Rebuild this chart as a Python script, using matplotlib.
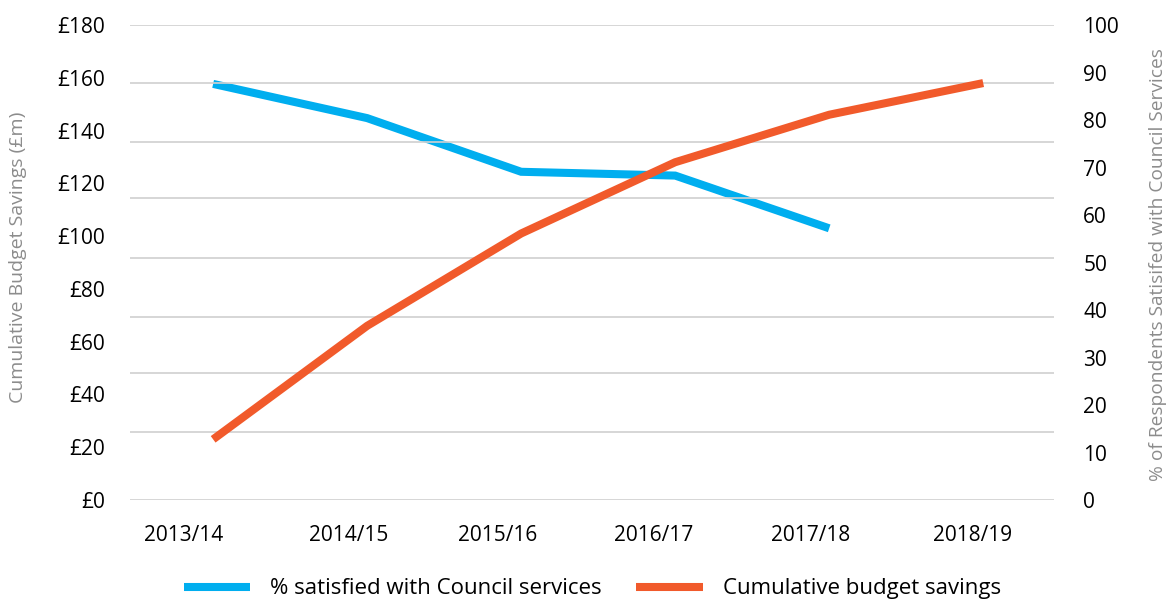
import matplotlib
matplotlib.use('Agg')
import matplotlib.pyplot as plt
from matplotlib.lines import Line2D

plt.rcParams['font.family'] = ['Open Sans', 'DejaVu Sans']

# ── Dados ────────────────────────────────────────────────────────
years = ['2013/14', '2014/15', '2015/16', '2016/17', '2017/18', '2018/19']
savings = [23, 66, 101, 128, 146, 158]           # £m, eixo esquerdo
satisfied = [87.6, 80.4, 69.1, 68.3, 57.2]       # %, eixo direito (sem 2018/19)

left_ticks = list(range(0, 181, 20))
right_ticks = list(range(0, 101, 10))
grid_levels = [0, 25.8, 48.1, 69.3, 91.7, 114.4, 135.6, 158, 180]   # em £m
label_pos = [-0.19, 0.88, 1.85, 2.86, 3.88, 4.93]

BLUE = '#00AEEF'
ORANGE = '#F15A2B'
GREY = '#8C8C8C'

fig = plt.figure(figsize=(11.73, 6.01), dpi=100)
ax = fig.add_axes([0.1108, 0.168, 0.7878, 0.7904])
ax2 = ax.twinx()
ax.set_zorder(ax2.get_zorder() + 1)
ax.patch.set_visible(False)

for g in grid_levels:
    ax.axhline(g, color='#D0D0D0', lw=1.2, zorder=0)

x_sav = list(range(len(savings)))
x_sat = list(range(len(satisfied)))
ax.plot(x_sav, savings, color=ORANGE, lw=5.8, solid_capstyle='butt',
        solid_joinstyle='miter', zorder=3)
ax2.plot(x_sat, satisfied, color=BLUE, lw=5.8, solid_capstyle='butt',
         solid_joinstyle='miter')

ax.set_xlim(-0.54, 5.46)
ax.set_ylim(0, 180)
ax2.set_ylim(0, 100)

ax.set_xticks(label_pos)
ax.set_xticklabels(years, fontsize=15)
ax.set_yticks(left_ticks)
ax.set_yticklabels([f'£{v}' for v in left_ticks], fontsize=15)
ax2.set_yticks(right_ticks)
ax2.set_yticklabels([str(v) for v in right_ticks], fontsize=15)

ax.tick_params(axis='x', length=0, pad=18)
ax.tick_params(axis='y', length=0, pad=18)
ax2.tick_params(axis='y', length=0, pad=21)

for a in (ax, ax2):
    for s in a.spines.values():
        s.set_visible(False)

fig.text(0.0155, 0.572, 'Cumulative Budget Savings (£m)', rotation=90,
         color=GREY, fontsize=14, ha='center', va='center')
fig.text(0.987, 0.56, '% of Respondents Satisifed with Council Services',
         rotation=90, color=GREY, fontsize=13.8, ha='center', va='center')

handles = [Line2D([], [], color=BLUE, lw=5.8, solid_capstyle='butt'),
           Line2D([], [], color=ORANGE, lw=5.8, solid_capstyle='butt')]
fig.legend(handles, ['% satisfied with Council services', 'Cumulative budget savings'],
           loc='center', bbox_to_anchor=(0.505, 0.02), ncol=2, frameon=False,
           fontsize=16, handlelength=3.0, handletextpad=0.9, columnspacing=1.55)

fig.savefig('out.png', dpi=100)
